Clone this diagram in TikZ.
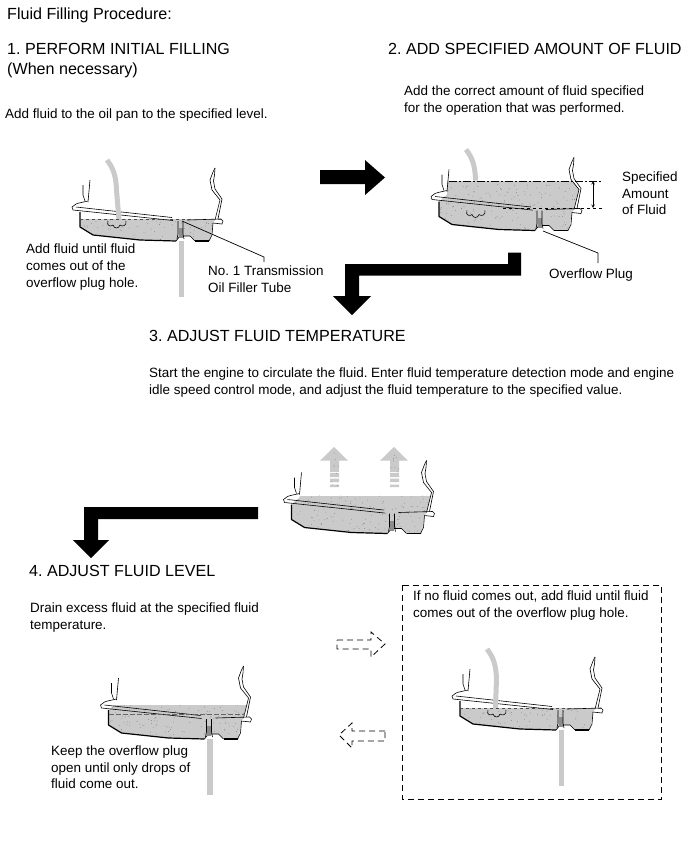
\documentclass[tikz,border=0pt]{standalone}
\usepackage{fontspec}
\setmainfont{Liberation Sans}
\frenchspacing
\definecolor{fluid}{HTML}{CACACA}
\definecolor{speck}{HTML}{7A7A7A}
\tikzset{
  lbl/.style={anchor=north west, inner sep=0pt, align=left, font=\fontsize{13.45}{16.6}\selectfont},
  head/.style={anchor=north west, inner sep=0pt, align=left, font=\fontsize{16.1}{20}\selectfont},
  bigarrow/.style={fill=black},
  dasharrow/.style={line width=0.8, dash pattern=on 6pt off 4pt},
  panline/.style={line width=0.6, line join=round},
  panthick/.style={line width=1.2, line join=round},
}

\newcommand{\oilpan}[3]{%
  \begin{scope}[shift={(#1,#2)}]
    % fluid with speckles
    \begin{scope}
      \clip (88,150) -- (88,205) -- (80,212) -- (80,227) -- (93,235) -- (140,240) -- (176,241) -- (180,236) -- (190,236) -- (195,241) -- (210,241) -- (213,223) -- (215,220) -- (220,200) -- (212,190) -- (210,150) -- cycle;
      \fill[fluid] (70,#3) rectangle (230,245);
      \clip (70,#3) rectangle (230,245);
      \foreach \i in {1,...,170} {
        \fill[speck] ({78+145*rnd},{195+48*rnd}) circle (0.4);
      }
    \end{scope}
    % walls
    \draw[panline] (90,180) -- (88,202);
    \draw[panline] (83,185) -- (83,195) -- (85,201);
    \draw[panline] (215,168) -- (213,172) -- (210,180) -- (212,190) -- (220,200) -- (215,220);
    \draw[panline] (215,168) -- (214.5,175) -- (213.5,181) -- (215,189) -- (222,199) -- (218,219);
    % flange
    \draw[panline] (88,201) -- (79,203) -- (76,204) -- (72,207) -- (73,210) -- (173,220.5);
    \draw[panline] (76,207) -- (172,217.5);
    \draw[panline] (187,220) -- (221,219) -- (223,221) -- (222,224) -- (213,223);
    % pan body
    \draw[panthick] (80,212) -- (80,227) -- (93,235) -- (140,240) -- (176,241);
    \draw[panline] (176,241) -- (180,236) -- (190,236) -- (195,241);
    \draw[panthick] (195,241) -- (209,241);
    \draw[panline] (209,241) -- (212,235) -- (213,223);
    % overflow plug
    \fill[black!45] (178.5,228) rectangle (182.5,238);
    \draw[panline] (178,221) -- (178,234) -- (177,239);
    \draw[panline] (183,221) -- (183,234) -- (184,239);
  \end{scope}}

\newcommand{\fillhose}[3]{%
  \begin{scope}[shift={(#1,#2)}]
    \draw[fluid, line width=5] (107,160) .. controls (113,168) and (116,175) .. (116.5,190) -- (#3);
    \draw[panline] (108,221) .. controls (106,226) and (111,227) .. (113,225) .. controls (114,229) and (119,229) .. (120,225) .. controls (122,227) and (127,226) .. (126,221);
  \end{scope}}

\newcommand{\drainstream}[2]{%
  \begin{scope}[shift={(#1,#2)}]
    \fill[fluid] (178.5,241) rectangle (184,297);
  \end{scope}}

\newcommand{\risingarrow}[1]{%
  \begin{scope}[shift={(#1,0)}]
    \begin{scope}
      \clip (0,460.7) -- (14,447) -- (28,460.7) -- (19,460.7) -- (19,472) -- (10,472) -- (10,460.7) -- cycle (10,473) rectangle (19,477) (10,478.5) rectangle (19,482) (10,484.5) rectangle (19,487);
      \fill[fluid] (0,445) rectangle (30,490);
      \foreach \i in {1,...,25} {
        \fill[speck] ({2+26*rnd},{448+40*rnd}) circle (0.4);
      }
    \end{scope}
  \end{scope}}

\begin{document}
\begin{tikzpicture}[x=1pt, y=-1pt]
  \useasboundingbox (0,0) rectangle (691,855);
  \pgfmathsetseed{11}

  %%%%%%%%%% Titles and notes %%%%%%%%%%
  \node[head] (title) at (7,7.5) {Fluid Filling Procedure:};
  \node[head] (stepone) at (7,43.2) {1. PERFORM INITIAL FILLING\\(When necessary)};
  \node[head] (steptwo) at (388,43.2) {2. ADD SPECIFIED AMOUNT OF FLUID};
  \node[lbl] (noteamount) at (404,86) {Add the correct amount of fluid specified\\for the operation that was performed.};
  \node[lbl] (noteoilpan) at (5,109) {Add fluid to the oil pan to the specified level.};
  \node[lbl] (specamount) at (622,171.5) {Specified\\Amount\\of Fluid};
  \node[lbl] (noteuntil) at (26,244) {Add fluid until fluid\\comes out of the\\overflow plug hole.};
  \node[lbl] (tubelabel) at (208,266) {No. 1 Transmission\\Oil Filler Tube};
  \node[lbl] (pluglabel) at (549,269) {Overflow Plug};
  \node[head] (stepthree) at (149,330.5) {3. ADJUST FLUID TEMPERATURE};
  \node[lbl] (notestart) at (149,368) {Start the engine to circulate the fluid. Enter fluid temperature detection mode and engine\\idle speed control mode, and adjust the fluid temperature to the specified value.};
  \node[head] (stepfour) at (29,565) {4. ADJUST FLUID LEVEL};
  \node[lbl] (notedrain) at (30,603) {Drain excess fluid at the specified fluid\\temperature.};
  \node[lbl] (noteadd) at (413,590.5) {If no fluid comes out, add fluid until fluid\\comes out of the overflow plug hole.};
  \node[lbl] (notekeep) at (51,745.5) {Keep the overflow plug\\open until only drops of\\fluid come out.};

  %%%%%%%%%% Oil pans %%%%%%%%%%
  \drainstream{0}{0}
  \oilpan{0}{0}{219}
  \fillhose{0}{0}{119,220}
  \draw[panline, black!70, dashed] (80,219) -- (222,219);

  \oilpan{359}{-10.5}{191}
  \fillhose{359}{-10.5}{116.5,191}

  \oilpan{211.5}{292.5}{203}

  \drainstream{28.5}{498}
  \oilpan{28.5}{498}{207}
  \draw[line width=1, black!60, dash pattern=on 5pt off 2pt] (109,714) -- (245,714);

  \drainstream{380}{489}
  \oilpan{380}{489}{219}
  \fillhose{380}{489}{115.5,219}
  \draw[panline, black!70, dashed] (460,708) -- (602,708);

  %%%%%%%%%% Specified amount %%%%%%%%%%
  \coordinate (levelhigh) at (449,181);
  \coordinate (levellow) at (503,208);
  \coordinate (dimhigh) at (593,181);
  \coordinate (dimlow) at (593,208);
  \draw[panline, dash pattern=on 8pt off 2pt on 2pt off 2pt] (levelhigh) -- (602,181);
  \draw[panline, dashed] (levellow) -- (602,208);
  \draw[panline, <->, >=stealth] (dimhigh) -- (dimlow);

  %%%%%%%%%% Leader lines %%%%%%%%%%
  \coordinate (tubetip) at (182,221);
  \coordinate (tubebend) at (264,257);
  \coordinate (tubeend) at (264,262);
  \draw[line width=0.7] (tubetip) -- (tubebend) -- (tubeend);
  \coordinate (plugtip) at (543,231);
  \coordinate (plugbend) at (598,253);
  \coordinate (plugend) at (598,263);
  \draw[line width=0.7] (plugtip) -- (plugbend) -- (plugend);

  %%%%%%%%%% Big arrows %%%%%%%%%%
  \fill[bigarrow] (320,170) -- (365,170) -- (365,160) -- (385,177.5) -- (365,195) -- (365,184) -- (320,184) -- cycle;
  \fill[bigarrow] (508,252.5) -- (521,252.5) -- (521,275.5) -- (359,275.5) -- (359,296) -- (371,296) -- (352,315) -- (333,296) -- (345,296) -- (345,264) -- (508,264) -- cycle;
  \fill[bigarrow] (258,507) -- (258,519) -- (98,519) -- (98,540) -- (109,540) -- (91,558) -- (73,540) -- (84,540) -- (84,507) -- cycle;

  %%%%%%%%%% Rising arrows %%%%%%%%%%
  \risingarrow{320}
  \risingarrow{380}

  %%%%%%%%%% Dashed arrows %%%%%%%%%%
  \draw[dasharrow] (337,640) -- (371,640) -- (371,632) -- (385,644) -- (371,657) -- (371,649) -- (337,649) -- cycle;
  \draw[dasharrow] (385,731) -- (352,731) -- (352,723) -- (339,735) -- (352,748) -- (352,741) -- (385,741) -- cycle;

  %%%%%%%%%% Dashed frame %%%%%%%%%%
  \draw[dasharrow] (402,585) rectangle (661.5,799);

\end{tikzpicture}
\end{document}
